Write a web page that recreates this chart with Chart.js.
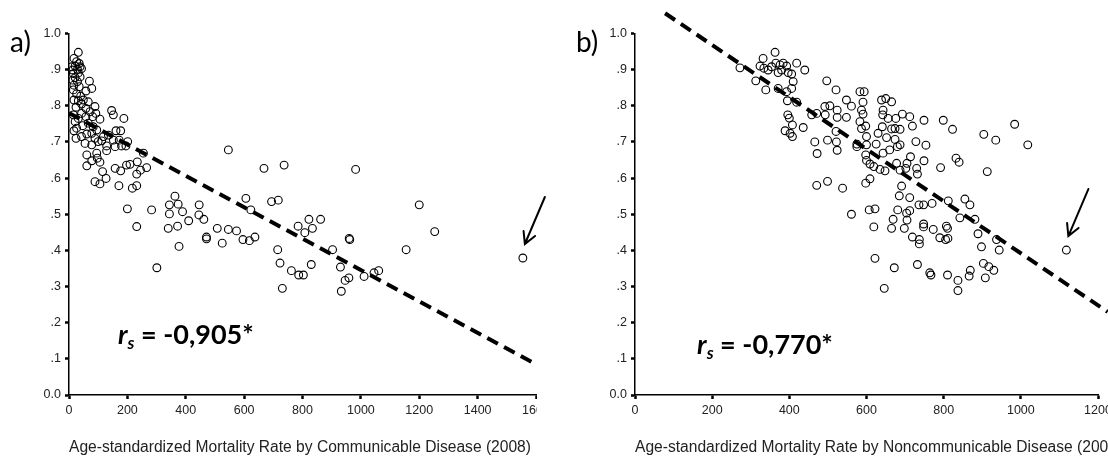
<!DOCTYPE html>
<html>
<head>
<meta charset="utf-8">
<script src="https://cdn.jsdelivr.net/npm/chart.js@4"></script>
<style>
  html, body { margin: 0; padding: 0; background: #fff; }
  #wrap { position: relative; width: 1108px; height: 460px; overflow: hidden; background: #fff; }
  #boxA { position: absolute; left: 0; top: 0; width: 560px; height: 460px; }
  #boxB { position: absolute; left: 560px; top: 0; width: 590px; height: 460px; }
</style>
</head>
<body>
<div id="wrap">
  <div id="boxA"><canvas id="chartA"></canvas></div>
  <div id="boxB"><canvas id="chartB"></canvas></div>
</div>
<script>
// panel a: communicable disease mortality (x) vs y value
const commX = [32, 17, 26, 35, 9, 21, 38, 13, 29, 43, 15, 32, 21, 38, 13, 29, 70, 17, 35, 78,
  58, 15, 26, 40, 17, 32, 49, 66, 43, 89, 24, 58, 72, 92, 43, 15, 81, 58, 32, 106,
  146, 152, 188, 21, 66, 47, 83, 26, 95, 17, 161, 177, 61, 78, 43, 118, 135, 89, 24, 172,
  100, 112, 152, 201, 55, 129, 158, 180, 195, 78, 129, 255, 61, 95, 97, 78, 106, 61, 158, 177,
  115, 197, 209, 234, 266, 245, 232, 127, 89, 106, 171, 217, 232, 546, 668, 200, 283, 232, 363, 344,
  374, 389, 344, 446, 410, 445, 462, 340, 372, 508, 546, 574, 606, 623, 694, 717,
  737, 982, 1200, 785, 822, 862, 834, 808, 960, 1253,
  471, 471, 377, 525, 596, 618, 637, 301, 715, 723, 731, 762, 787, 803, 830, 903, 930, 962, 933, 946,
  959, 1011, 1045, 1061, 1155, 1555];
const commY = [.948, .931, .922, .917, .908, .910, .908, .899, .901, .903, .889, .891, .878, .880, .871, .867, .868, .857, .853, .848,
  .841, .844, .833, .827, .816, .814, .816, .811, .805, .798, .796, .793, .784, .779, .779, .775, .770, .770, .765, .763,
  .787, .775, .765, .756, .752, .745, .742, .738, .733, .731, .731, .731, .722, .724, .715, .715, .719, .710, .710, .705,
  .701, .703, .705, .701, .696, .689, .687, .689, .689, .692, .676, .669, .664, .669, .655, .648, .644, .634, .627, .620,
  .618, .636, .638, .645, .629, .622, .611, .599, .590, .584, .579, .572, .579, .678, .627, .515, .512, .466, .550, .526,
  .528, .507, .501, .526, .482, .498, .486, .461, .467, .461, .458, .454, .544, .512, .535, .539,
  .636, .624, .526, .467, .486, .486, .461, .449, .433, .452,
  .432, .437, .411, .420, .430, .427, .437, .352, .402, .365, .295, .344, .332, .332, .361, .402, .354, .430, .287, .317,
  .324, .328, .338, .344, .402, .379];
const commFitX = [0, 1600];
const commFitY = [0.78, 0.085];

// panel b: noncommunicable disease mortality (x) vs y value
const ncdX = [272, 313, 324, 332, 334, 339, 345, 354, 363, 365, 371, 376, 380, 384, 393, 397, 406, 410, 406, 419,
  440, 371, 393, 395, 419, 396, 400, 408, 389, 402, 408, 436, 458, 471, 492, 505, 497, 521, 466, 499,
  472, 471, 499, 524, 524, 521, 522, 524,
  493, 548, 548, 561, 583, 594, 591, 587, 591, 639, 650, 665, 643, 642, 656, 676, 693, 712, 583, 587,
  598, 641, 665, 674, 687, 719, 749, 799, 823, 630, 600, 652, 674, 687, 680, 625, 600, 575, 575, 728,
  754, 598, 643, 660, 714, 600, 609, 619, 635, 648, 678, 687, 705, 702, 730, 732, 749, 792, 832, 840,
  904, 935, 984, 1018, 913, 538, 598, 609, 691, 685, 712, 561, 607, 622, 681, 704, 712, 736, 748, 770,
  812, 855, 868, 842, 881, 669, 705, 619, 665, 698, 748, 748, 773, 807, 810,
  719, 737, 737, 790, 805, 811, 889, 898, 937, 944, 622, 646, 672, 732, 764, 767, 810, 837, 837, 866,
  869, 903, 917, 908, 930, 1118];
const ncdY = [.905, .869, .910, .931, .904, .844, .899, .908, .948, .918, .892, .913, .899, .918, .910, .892, .888, .867, .848, .918,
  .899, .848, .839, .814, .810, .775, .766, .747, .731, .724, .715, .740, .775, .779, .798, .800, .869, .844, .700, .705,
  .668, .580, .591, .788, .768, .729, .700, .677,
  .775, .768, .816, .799, .839, .839, .810, .788, .777, .816, .820, .811, .788, .775, .765, .765, .777, .770, .756, .737,
  .744, .742, .736, .737, .735, .744, .760, .760, .735, .724, .715, .712, .707, .692, .687, .694, .692, .694, .687, .701,
  .691, .664, .669, .678, .659, .649, .639, .632, .624, .620, .641, .622, .641, .627, .627, .611, .648, .629, .655, .644,
  .721, .705, .749, .692, .618, .572, .586, .598, .578, .551, .546, .500, .512, .515, .512, .503, .510, .526, .526, .530,
  .537, .542, .526, .490, .486, .486, .484, .465, .461, .461, .473, .465, .458, .467, .461,
  .437, .430, .418, .435, .430, .433, .446, .410, .430, .401, .378, .295, .352, .361, .338, .332, .332, .317, .289, .329,
  .345, .364, .355, .324, .345, .401];
const ncdFitX = [78, 1225];
const ncdFitY = [1.056, 0.23];

const yTickLabels = ['0.0', '.1', '.2', '.3', '.4', '.5', '.6', '.7', '.8', '.9', '1.0'];
const titleA = 'Age-standardized Mortality Rate by Communicable Disease (2008)';
const titleB = 'Age-standardized Mortality Rate by Noncommunicable Disease (2008)';

const tickFont = { family: "'Liberation Sans', Arial, sans-serif", size: 12.5 };

const panelDecor = {
  id: 'panelDecor',
  beforeDraw(chart, args, opts) {
    if (opts.clipRight) {
      const ctx = chart.ctx;
      ctx.save();
      ctx.beginPath();
      ctx.rect(0, 0, opts.clipRight, chart.height);
      ctx.clip();
    }
  },
  afterDraw(chart, args, opts) {
    const ctx = chart.ctx;
    const xs = chart.scales.x, ys = chart.scales.y;
    const area = chart.chartArea;

    // axis title, left-aligned with the axis and not squeezed to its width
    ctx.save();
    ctx.fillStyle = '#222';
    ctx.font = "15.6px 'Liberation Sans', Arial, sans-serif";
    ctx.textAlign = 'left';
    ctx.textBaseline = 'middle';
    ctx.fillText(opts.title, area.left, area.bottom + 53);
    ctx.restore();

    if (opts.clipRight) ctx.restore();

    ctx.save();
    ctx.fillStyle = '#000';
    ctx.textBaseline = 'alphabetic';
    ctx.textAlign = 'left';
    ctx.font = '28px Lato, sans-serif';
    ctx.fillText(opts.letter, area.left - 59, area.top + 18);

    // correlation label
    let x = xs.getPixelForValue(opts.rsAt[0]);
    const y = ys.getPixelForValue(opts.rsAt[1]);
    ctx.font = 'italic bold 27px Lato, sans-serif';
    ctx.fillText('r', x, y);
    x += ctx.measureText('r').width;
    ctx.font = 'italic bold 17px Lato, sans-serif';
    ctx.fillText('s', x, y + 5);
    x += ctx.measureText('s').width;
    ctx.font = 'bold 27px Lato, sans-serif';
    ctx.fillText(' = ' + opts.rsValue, x, y);

    // arrow to the outlier
    const px = xs.getPixelForValue(opts.arrowTo[0]);
    const py = ys.getPixelForValue(opts.arrowTo[1]);
    const tipX = px + 2, tipY = py - 14;
    const tailX = px + 22, tailY = py - 61;
    const ang = Math.atan2(tipY - tailY, tipX - tailX);
    const head = 13;
    ctx.strokeStyle = '#000';
    ctx.lineWidth = 2;
    ctx.lineCap = 'round';
    ctx.beginPath();
    ctx.moveTo(tailX, tailY);
    ctx.lineTo(tipX, tipY);
    ctx.moveTo(tipX - head * Math.cos(ang - 0.5), tipY - head * Math.sin(ang - 0.5));
    ctx.lineTo(tipX, tipY);
    ctx.lineTo(tipX - head * Math.cos(ang + 0.5), tipY - head * Math.sin(ang + 0.5));
    ctx.stroke();
    ctx.restore();
  }
};

function makeChart(id, xs, ys, fitX, fitY, xMax, yWidth, padRight, decor) {
  const pts = xs.map((v, i) => ({ x: v, y: ys[i] }));
  const fit = fitX.map((v, i) => ({ x: v, y: fitY[i] }));
  return new Chart(document.getElementById(id), {
    data: {
      datasets: [
        {
          type: 'line',
          data: fit,
          borderColor: '#000',
          borderWidth: 4,
          borderDash: [12, 7],
          pointRadius: 0,
          fill: false,
          clip: false,
          order: 0
        },
        {
          type: 'scatter',
          data: pts,
          pointRadius: 3.9,
          pointHoverRadius: 3.9,
          borderWidth: 1.1,
          borderColor: '#000',
          backgroundColor: 'rgba(255,255,255,0)',
          order: 1
        }
      ]
    },
    options: {
      responsive: true,
      maintainAspectRatio: false,
      animation: false,
      devicePixelRatio: 1,
      events: [],
      layout: { padding: { top: 33.5, right: padRight, bottom: 0, left: 0 } },
      plugins: {
        legend: { display: false },
        tooltip: { enabled: false },
        panelDecor: decor
      },
      scales: {
        x: {
          type: 'linear',
          min: 0,
          max: xMax,
          ticks: {
            stepSize: 200,
            autoSkip: false,
            maxRotation: 0,
            padding: 4,
            color: '#222',
            font: tickFont,
            callback: v => String(v)
          },
          grid: { drawOnChartArea: false, tickLength: 4, tickWidth: 2.5, tickColor: '#000' },
          border: { color: '#000', width: 1.5 },
          afterFit: s => { s.height = 65; s.paddingLeft = 0; s.paddingRight = 0; }
        },
        y: {
          type: 'linear',
          min: 0,
          max: 1,
          ticks: {
            stepSize: 0.1,
            padding: 4,
            color: '#222',
            font: tickFont,
            callback: (v, i) => yTickLabels[i]
          },
          grid: { drawOnChartArea: false, tickLength: 4, tickWidth: 2.5, tickColor: '#000' },
          border: { color: '#000', width: 1.5 },
          afterFit: s => { s.width = yWidth; }
        }
      }
    },
    plugins: [panelDecor]
  });
}

makeChart('chartA', commX, commY, commFitX, commFitY, 1600, 69, 24, {
  letter: 'a)', title: titleA, rsAt: [168, 0.141], rsValue: '-0,905*',
  arrowTo: [commX[commX.length - 1], commY[commY.length - 1]], clipRight: 537
});
makeChart('chartB', ncdX, ncdY, ncdFitX, ncdFitY, 1200, 75, 52, {
  letter: 'b)', title: titleB, rsAt: [161, 0.113], rsValue: '-0,770*',
  arrowTo: [ncdX[ncdX.length - 1], ncdY[ncdY.length - 1]], clipRight: 0
});
</script>
</body>
</html>
